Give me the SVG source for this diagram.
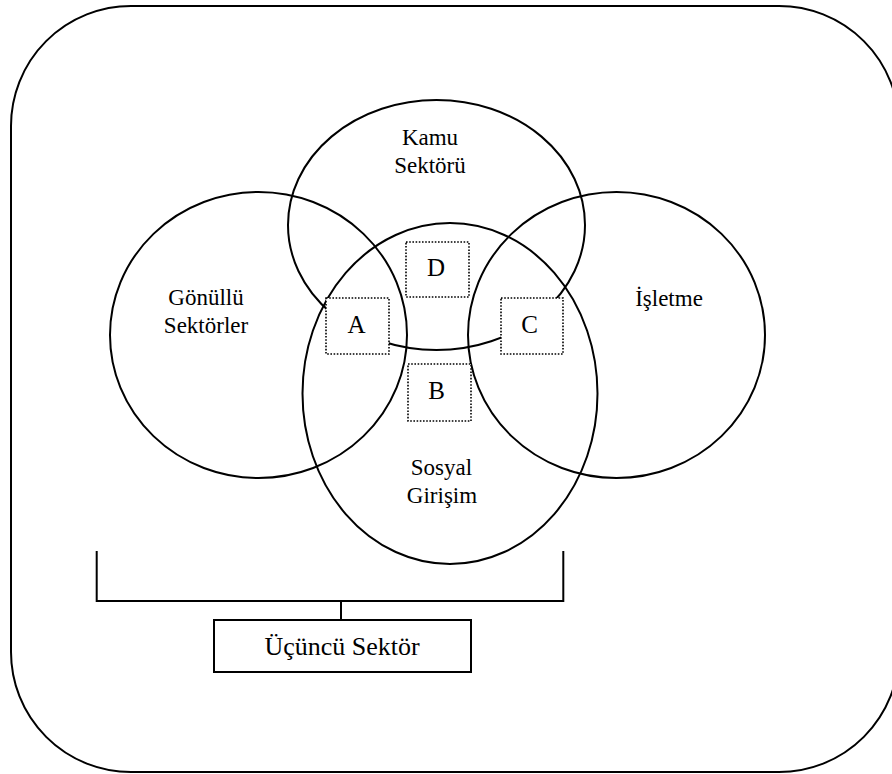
<svg xmlns="http://www.w3.org/2000/svg" width="892" height="774" viewBox="0 0 892 774">
  <style>
    .frame { fill: none; stroke: #000; stroke-width: 2; }
    .set { fill: none; stroke: #000; stroke-width: 2; }
    .zone { fill: #fff; stroke: #000; stroke-width: 1.6; stroke-dasharray: 1.6 1.6; }
    .box { fill: #fff; stroke: #000; stroke-width: 2; }
    .wire { fill: none; stroke: #000; stroke-width: 2; }
    text { font-family: 'Liberation Serif', 'DejaVu Serif', serif; font-size: 23px; fill: #000; text-anchor: middle; }
    .big { font-size: 25px; }
    .title { font-size: 26px; }
  </style>
  <rect class="frame" x="11" y="6" width="888" height="766" rx="120" ry="120"/>

  <g id="gonullu">
    <ellipse class="set" cx="258.5" cy="335" rx="148.5" ry="143"/>
    <text x="206" y="305">Gönüllü</text>
    <text x="206" y="333">Sektörler</text>
  </g>
  <g id="isletme">
    <ellipse class="set" cx="616.5" cy="335" rx="148.5" ry="143"/>
    <text x="669" y="306">İşletme</text>
  </g>
  <g id="kamu">
    <ellipse class="set" cx="436.5" cy="225" rx="148.5" ry="125"/>
    <text x="430" y="145">Kamu</text>
    <text x="430" y="173">Sektörü</text>
  </g>
  <g id="sosyal">
    <ellipse class="set" cx="450" cy="393.5" rx="147.5" ry="170.5"/>
    <text x="441.5" y="475">Sosyal</text>
    <text x="442" y="503">Girişim</text>
  </g>

  <!-- overlap zones, white-filled so they mask the arcs beneath -->
  <g id="zoneD">
    <rect class="zone" x="406" y="242" width="63" height="55"/>
    <text class="big" x="436" y="276">D</text>
  </g>
  <g id="zoneA">
    <rect class="zone" x="326" y="298" width="63" height="56"/>
    <text class="big" x="356.5" y="333">A</text>
  </g>
  <g id="zoneC">
    <rect class="zone" x="501" y="298" width="62" height="56"/>
    <text class="big" x="529.5" y="333">C</text>
  </g>
  <g id="zoneB">
    <rect class="zone" x="408" y="364" width="63" height="57"/>
    <text class="big" x="436.5" y="399">B</text>
  </g>

  <g id="connectors">
    <path class="wire" d="M96.7 551 V601 H563.3 V551 M341 601 V620"/>
  </g>

  <g id="ucuncu">
    <rect class="box" x="214" y="620" width="257" height="52"/>
    <text class="title" x="342" y="655">Üçüncü Sektör</text>
  </g>
</svg>
